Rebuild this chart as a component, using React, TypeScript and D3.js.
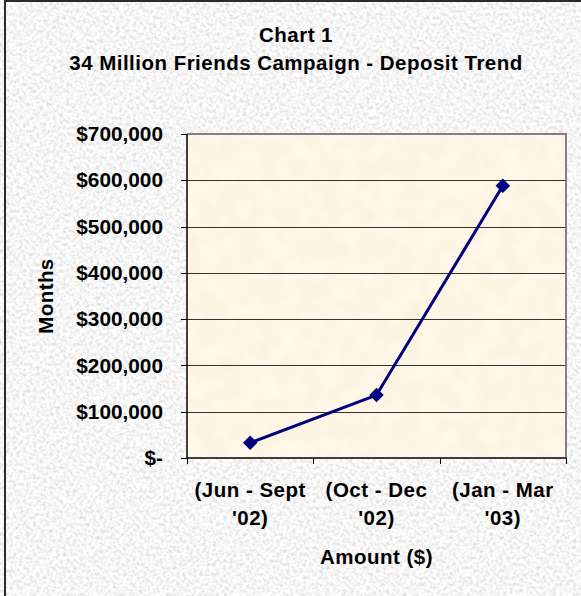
import React from "react";
import * as d3 from "d3";

// ---- data ----
const categories = ["(Jun - Sept '02)", "(Oct - Dec '02)", "(Jan - Mar '03)"];
const categoryLines = [
  ["(Jun - Sept", "'02)"],
  ["(Oct - Dec", "'02)"],
  ["(Jan - Mar", "'03)"],
];
const deposits = [33000, 136000, 588000];
const yTicks = [0, 100000, 200000, 300000, 400000, 500000, 600000, 700000];
const titleLines = ["Chart 1", "34 Million Friends Campaign - Deposit Trend"];
const xAxisTitle = "Amount ($)";
const yAxisTitle = "Months";

const W = 581;
const H = 596;
const plot = { left: 187, right: 566, top: 134, bottom: 458 };
const FONT = "'Liberation Sans', Arial, Helvetica, sans-serif";
const FS = 20.5;

const fmt = (v: number) => (v === 0 ? "$-" : "$" + d3.format(",")(v));

export default function App() {
  const x = d3
    .scaleBand<string>()
    .domain(categories)
    .range([plot.left, plot.right])
    .paddingInner(0)
    .paddingOuter(0);
  const y = d3
    .scaleLinear()
    .domain([0, yTicks[yTicks.length - 1]])
    .range([plot.bottom, plot.top]);

  const pts: [number, number][] = deposits.map((v, i) => [
    (x(categories[i]) as number) + x.bandwidth() / 2,
    y(v),
  ]);
  const line = d3.line()(pts) as string;
  const diamond = d3.symbol().type(d3.symbolDiamond2).size(135)() as string;

  const boundaries = [...categories.map((c) => x(c) as number), plot.right];
  const cx = (plot.left + plot.right) / 2;
  const cy = (plot.top + plot.bottom) / 2;

  return (
    <svg
      width={W}
      height={H}
      style={{ position: "absolute", left: 0, top: 0, display: "block" }}
      fontFamily={FONT}
      fontWeight="bold"
    >
      <defs>
        <filter id="granite" x="0" y="0" width="100%" height="100%">
          <feTurbulence type="fractalNoise" baseFrequency="0.3" numOctaves="4" seed="7" />
          <feColorMatrix
            type="matrix"
            values="0.6 0 0 0 0.62  0.6 0 0 0 0.62  0.6 0 0 0 0.62  0 0 0 0 1"
          />
        </filter>
        <filter id="paper" x="0" y="0" width="100%" height="100%">
          <feTurbulence type="fractalNoise" baseFrequency="0.05" numOctaves="3" seed="2" />
          <feColorMatrix
            type="matrix"
            values="0.05 0 0 0 0.965  0.09 0 0 0 0.875  0.13 0 0 0 0.72  0 0 0 0 1"
          />
        </filter>
      </defs>

      {/* chart area background */}
      <rect x={0} y={0} width={W} height={H} fill="#e6e6e6" />
      <rect x={0} y={0} width={W} height={H} filter="url(#granite)" />
      <rect x={5} y={1} width={W + 20} height={H + 20} fill="none" stroke="#2b2b2b" strokeWidth={2} />

      {/* plot area */}
      <rect
        x={plot.left}
        y={plot.top}
        width={plot.right - plot.left}
        height={plot.bottom - plot.top}
        filter="url(#paper)"
      />

      {/* gridlines */}
      {yTicks.slice(1).map((t) => (
        <line
          key={"g" + t}
          x1={plot.left}
          x2={plot.right}
          y1={Math.round(y(t)) + 0.5}
          y2={Math.round(y(t)) + 0.5}
          stroke="#333"
          strokeWidth={1}
        />
      ))}

      {/* plot border top/right */}
      <path
        d={`M${plot.left},${plot.top} H${plot.right} V${plot.bottom}`}
        fill="none"
        stroke="#808080"
        strokeWidth={2}
      />

      {/* y axis */}
      <line x1={plot.left} x2={plot.left} y1={plot.top} y2={plot.bottom} stroke="#000" strokeWidth={1.5} />
      {yTicks.map((t) => (
        <g key={"t" + t}>
          <line
            x1={plot.left - 6}
            x2={plot.left}
            y1={Math.round(y(t)) + 0.5}
            y2={Math.round(y(t)) + 0.5}
            stroke="#000"
            strokeWidth={1}
          />
          <text x={163} y={y(t)} dy="0.34em" textAnchor="end" fontSize={20.8} fill="#000">
            {fmt(t)}
          </text>
        </g>
      ))}

      {/* x axis */}
      <line x1={plot.left} x2={plot.right} y1={plot.bottom} y2={plot.bottom} stroke="#000" strokeWidth={1.5} />
      {boundaries.map((b, i) => (
        <line
          key={"xt" + i}
          x1={Math.round(b) + 0.5}
          x2={Math.round(b) + 0.5}
          y1={plot.bottom}
          y2={plot.bottom + 6}
          stroke="#000"
          strokeWidth={1}
        />
      ))}
      {categories.map((c, i) => (
        <text
          key={"xl" + i}
          x={(x(c) as number) + x.bandwidth() / 2}
          y={497}
          textAnchor="middle"
          fontSize={FS}
          letterSpacing={0.5}
          fill="#000"
        >
          {categoryLines[i].map((ln, j) => (
            <tspan key={j} x={(x(c) as number) + x.bandwidth() / 2} y={497 + j * 28}>
              {ln}
            </tspan>
          ))}
        </text>
      ))}

      {/* series */}
      <path d={line} fill="none" stroke="#000080" strokeWidth={3} strokeLinejoin="round" />
      {pts.map(([px, py], i) => (
        <path key={"m" + i} d={diamond} transform={`translate(${px},${py})`} fill="#000080" />
      ))}

      {/* titles */}
      <text x={296} textAnchor="middle" fontSize={FS} letterSpacing={0.48} fill="#000">
        {titleLines.map((t, i) => (
          <tspan key={i} x={296} y={42 + i * 28}>
            {t}
          </tspan>
        ))}
      </text>
      <text x={cx} y={564} textAnchor="middle" fontSize={FS} letterSpacing={0.5} fill="#000">
        {xAxisTitle}
      </text>
      <text
        transform={`translate(52.5,${cy}) rotate(-90)`}
        textAnchor="middle"
        fontSize={FS}
        letterSpacing={0.4}
        fill="#000"
      >
        {yAxisTitle}
      </text>
    </svg>
  );
}
